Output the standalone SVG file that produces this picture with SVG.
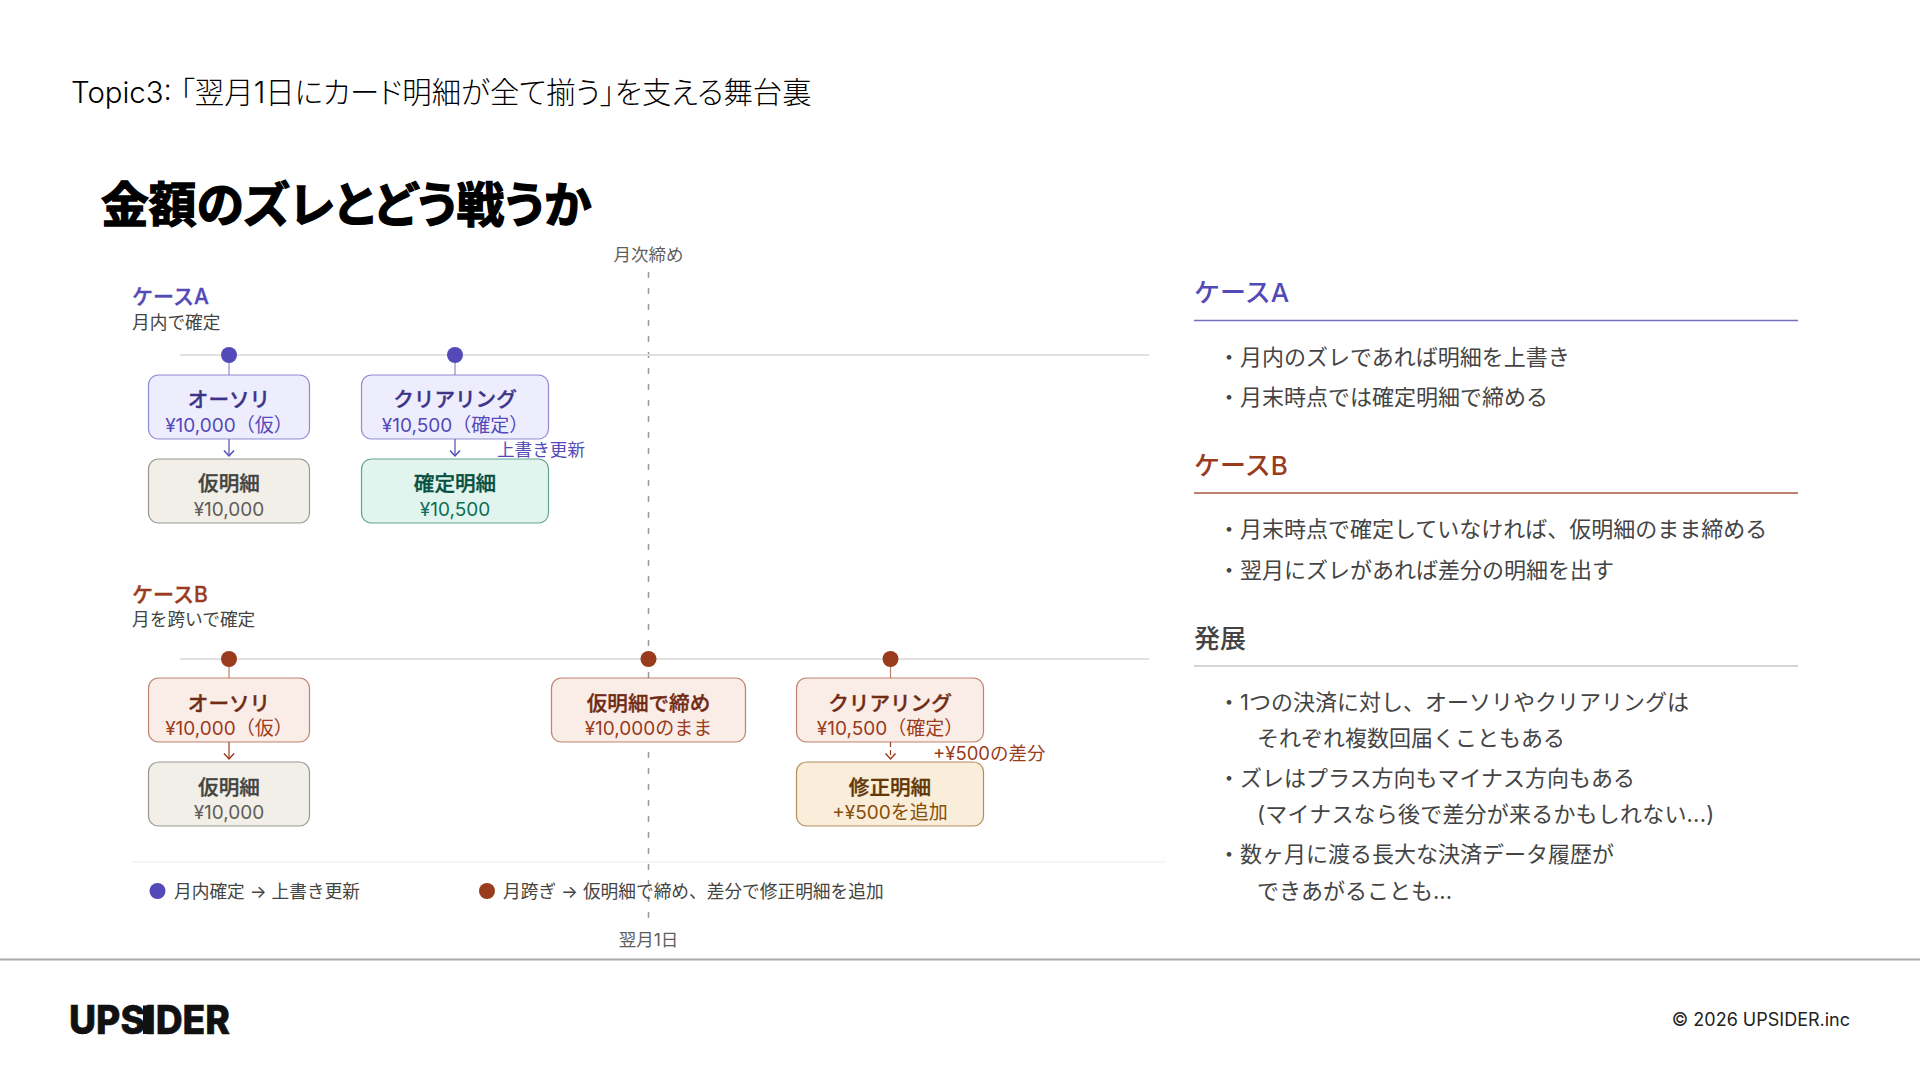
<svg xmlns="http://www.w3.org/2000/svg" width="1920" height="1080" viewBox="0 0 1920 1080">
<style>
text{font-family:"Inter","Noto Sans CJK JP","Noto Sans",sans-serif}
.p{font-feature-settings:"palt"}
.bx{stroke-width:1.2;stroke-opacity:.62}
.t{font-size:20.6px;font-weight:500;text-anchor:middle;stroke-width:.35}
.s{font-size:19px;text-anchor:middle}
.pu{fill:#EEEDFE;stroke:#534AB7}.pu1{fill:#3C3489;stroke:#3C3489}.pu2{fill:#534AB7}
.co{fill:#FAECE7;stroke:#993C1D}.co1{fill:#712B13;stroke:#712B13}.co2{fill:#993C1D}
.gr{fill:#F1EFE8;stroke:#5F5E5A}.gr1{fill:#444441;stroke:#444441}.gr2{fill:#5F5E5A}
.te{fill:#E1F5EE;stroke:#0F6E56}.te1{fill:#085041;stroke:#085041}.te2{fill:#0F6E56}
.am{fill:#FAEEDA;stroke:#854F0B}.am1{fill:#633806;stroke:#633806}.am2{fill:#854F0B}
.h{font-size:21px;font-weight:500;stroke-width:.35}
.h.pu2{stroke:#534AB7}.h.co2{stroke:#993C1D}
.sub{font-size:17.7px;fill:#444441}
.rh{font-size:26px;font-weight:500}
.b{font-size:22px;fill:#444}
.leg{font-size:17.7px;fill:#444441}
.ax{font-size:17.5px;text-anchor:middle;fill:#5F5E5A}
</style>
<defs>
<marker id="ap" markerWidth="10" markerHeight="12" refX="8" refY="6" orient="auto" markerUnits="userSpaceOnUse" viewBox="0 0 10 12"><path d="M2.500 1 L8 6 L2.500 11" fill="none" stroke="#534AB7" stroke-width="1.500"/></marker>
<marker id="ac" markerWidth="10" markerHeight="12" refX="8" refY="6" orient="auto" markerUnits="userSpaceOnUse" viewBox="0 0 10 12"><path d="M2.500 1 L8 6 L2.500 11" fill="none" stroke="#993C1D" stroke-width="1.500"/></marker>
</defs>
<rect width="1920" height="1080" fill="#fff"/>

<g id="header">
<text class="p" x="71" y="103" font-size="29.400" font-weight="300" fill="#000">Topic3: 「翌月1日にカード明細が全て揃う」を支える舞台裏</text>
<text class="p" x="101" y="222" font-size="47.800" font-weight="700" fill="#000" stroke="#000" stroke-width="1.400">金額のズレとどう戦うか</text>
</g>

<g id="connectors" fill="none">
<line x1="648.500" y1="272" x2="648.500" y2="922" stroke="#999" stroke-width="1.500" stroke-dasharray="6 10"/>
<line x1="180" y1="355" x2="1149" y2="355" stroke="#e2e1de" stroke-width="2"/>
<line x1="180" y1="659" x2="1149" y2="659" stroke="#e2e1de" stroke-width="2"/>
<line x1="132" y1="862" x2="1166" y2="862" stroke="#eeeeec" stroke-width="1.200"/>
<g stroke="#534AB7" stroke-opacity=".65" stroke-width="1.200">
<line x1="229" y1="355" x2="229" y2="375"/><line x1="455" y1="355" x2="455" y2="375"/>
</g>
<g stroke="#534AB7" stroke-width="1.200">
<line x1="229" y1="439" x2="229" y2="456" marker-end="url(#ap)"/>
<line x1="455" y1="439" x2="455" y2="456" marker-end="url(#ap)"/>
</g>
<g stroke="#993C1D" stroke-opacity=".65" stroke-width="1.200">
<line x1="229" y1="659" x2="229" y2="678"/><line x1="890.500" y1="659" x2="890.500" y2="678"/>
</g>
<line x1="229" y1="742" x2="229" y2="759" stroke="#993C1D" stroke-width="1.200" marker-end="url(#ac)"/>
<line x1="890.500" y1="742" x2="890.500" y2="759" stroke="#993C1D" stroke-width="1.200" stroke-dasharray="5 3" marker-end="url(#ac)"/>
</g>

<g id="axis-labels">
<text class="ax" x="648.500" y="261">月次締め</text>
<text class="ax" x="648.500" y="946">翌月1日</text>
</g>

<g id="case-a-label"><text class="h pu2" x="132" y="304">ケースA</text><text class="sub" x="132" y="329">月内で確定</text></g>
<g id="case-b-label"><text class="h co2" x="132" y="602">ケースB</text><text class="sub" x="132" y="626">月を跨いで確定</text></g>

<g id="dot-a1"><circle cx="229" cy="355" r="8" fill="#534AB7"/></g>
<g id="dot-a2"><circle cx="455" cy="355" r="8" fill="#534AB7"/></g>
<g id="dot-b1"><circle cx="229" cy="659" r="8" fill="#993C1D"/></g>
<g id="dot-b2"><circle cx="648.500" cy="659" r="8" fill="#993C1D"/></g>
<g id="dot-b3"><circle cx="890.500" cy="659" r="8" fill="#993C1D"/></g>

<g id="a-auth"><rect class="bx pu" x="148.500" y="375" width="161" height="64" rx="10"/><text class="t pu1" x="229" y="406.500">オーソリ</text><text class="s pu2" x="229" y="432">¥10,000（仮）</text></g>
<g id="a-clear"><rect class="bx pu" x="361.500" y="375" width="187" height="64" rx="10"/><text class="t pu1" x="455" y="406.500">クリアリング</text><text class="s pu2" x="455" y="432">¥10,500（確定）</text></g>
<g id="a-temp"><rect class="bx gr" x="148.500" y="459" width="161" height="64" rx="10"/><text class="t gr1" x="229" y="490.500">仮明細</text><text class="s gr2" x="229" y="516">¥10,000</text></g>
<g id="a-final"><rect class="bx te" x="361.500" y="459" width="187" height="64" rx="10"/><text class="t te1" x="455" y="490.500">確定明細</text><text class="s te2" x="455" y="516">¥10,500</text></g>
<g id="a-note"><text x="497" y="456" font-size="17.600" class="pu2">上書き更新</text></g>

<g id="b-auth"><rect class="bx co" x="148.500" y="678" width="161" height="64" rx="10"/><text class="t co1" x="229" y="710.500">オーソリ</text><text class="s co2" x="229" y="735">¥10,000（仮）</text></g>
<g id="b-temp"><rect class="bx gr" x="148.500" y="762" width="161" height="64" rx="10"/><text class="t gr1" x="229" y="794.500">仮明細</text><text class="s gr2" x="229" y="819">¥10,000</text></g>
<g id="b-close"><rect class="bx co" x="551.500" y="678" width="194" height="64" rx="10"/><text class="t co1" x="648.500" y="710.500">仮明細で締め</text><text class="s co2" x="648.500" y="735">¥10,000のまま</text></g>
<g id="b-clear"><rect class="bx co" x="796.500" y="678" width="187" height="64" rx="10"/><text class="t co1" x="890" y="710.500">クリアリング</text><text class="s co2" x="890" y="735">¥10,500（確定）</text></g>
<g id="b-fix"><rect class="bx am" x="796.500" y="762" width="187" height="64" rx="10"/><text class="t am1" x="890" y="794.500">修正明細</text><text class="s am2" x="890" y="819">+¥500を追加</text></g>
<g id="b-note"><text x="933" y="760" font-size="18.500" class="co2">+¥500の差分</text></g>

<g id="legend">
<circle cx="157.500" cy="891" r="8" fill="#534AB7"/><text class="leg" x="174" y="898">月内確定 → 上書き更新</text>
<circle cx="487" cy="891" r="8" fill="#993C1D"/><text class="leg" x="503" y="898">月跨ぎ → 仮明細で締め、差分で修正明細を追加</text>
</g>

<g id="panel-a">
<text class="rh pu2" x="1194" y="302">ケースA</text><line x1="1194" y1="320.500" x2="1798" y2="320.500" stroke="#534AB7" stroke-opacity=".8" stroke-width="1.500"/>
<text class="b" x="1218" y="364.500">・月内のズレであれば明細を上書き</text>
<text class="b" x="1218" y="405">・月末時点では確定明細で締める</text>
</g>
<g id="panel-b">
<text class="rh co2" x="1194" y="475">ケースB</text><line x1="1194" y1="493" x2="1798" y2="493" stroke="#993C1D" stroke-opacity=".85" stroke-width="1.500"/>
<text class="b" x="1218" y="537">・月末時点で確定していなければ、仮明細のまま締める</text>
<text class="b" x="1218" y="577.500">・翌月にズレがあれば差分の明細を出す</text>
</g>
<g id="panel-c">
<text class="rh" fill="#444" x="1194" y="648">発展</text><line x1="1194" y1="666" x2="1798" y2="666" stroke="#c8c8c8" stroke-width="1.500"/>
<text class="b" x="1218" y="710">・1つの決済に対し、オーソリやクリアリングは</text>
<text class="b" x="1257" y="746">それぞれ複数回届くこともある</text>
<text class="b" x="1218" y="786">・ズレはプラス方向もマイナス方向もある</text>
<text class="b" x="1257" y="822" letter-spacing=".2">(マイナスなら後で差分が来るかもしれない...)</text>
<text class="b" x="1218" y="862">・数ヶ月に渡る長大な決済データ履歴が</text>
<text class="b" x="1257" y="899">できあがることも...</text>
</g>

<g id="footer">
<line x1="0" y1="959.500" x2="1920" y2="959.500" stroke="#aaa" stroke-width="2"/>
<text x="69" y="1034" font-size="40" font-weight="800" fill="#111" stroke="#111" stroke-width=".6" textLength="161" lengthAdjust="spacingAndGlyphs">UPSIDER</text>
<rect x="143" y="1005.500" width="10" height="28.500" fill="#111"/>
<text x="1850" y="1025.500" font-size="18" fill="#222" text-anchor="end">© 2026 UPSIDER.inc</text>
</g>
</svg>
